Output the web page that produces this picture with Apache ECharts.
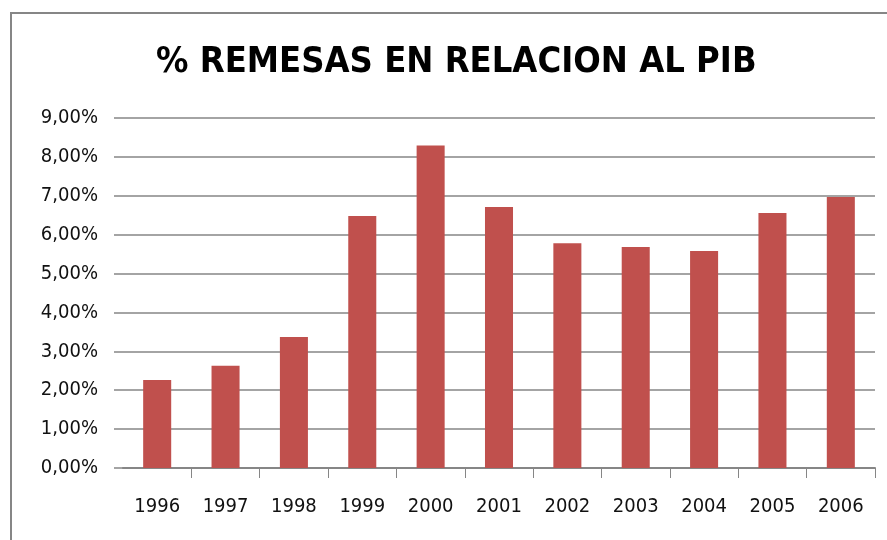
<!DOCTYPE html>
<html>
<head>
<meta charset="utf-8">
<script src="https://cdn.jsdelivr.net/npm/echarts@6/dist/echarts.min.js"></script>
<style>
  html, body { margin: 0; padding: 0; background: #fff; }
  #chart { width: 887px; height: 540px; }
</style>
</head>
<body>
<div id="chart"></div>
<script>
  // datos
  var years = ['1996', '1997', '1998', '1999', '2000', '2001', '2002', '2003', '2004', '2005', '2006'];
  var remesas = [2.26, 2.63, 3.37, 6.48, 8.29, 6.71, 5.78, 5.68, 5.58, 6.56, 6.97];
  var yMin = 0, yMax = 9, yStep = 1;

  var chart = echarts.init(document.getElementById('chart'));
  var font = '"DejaVu Sans Condensed", sans-serif';

  chart.setOption({
    animation: false,
    graphic: [{
      type: 'rect',
      shape: { x: 11, y: 13, width: 900, height: 560 },
      style: { fill: 'none', stroke: '#868686', lineWidth: 2 }
    }],
    title: {
      text: '% REMESAS EN RELACION AL PIB',
      left: 151,
      top: 40,
      textStyle: { fontFamily: font, fontWeight: 'bold', fontSize: 36, color: '#000' }
    },
    // grid 0: gridlines + y labels (gridlines start a bit left of the categories)
    // grid 1: bars + category axis
    grid: [
      { left: 114, right: 12, top: 118, bottom: 72 },
      { left: 123, right: 12, top: 118, bottom: 72 }
    ],
    xAxis: [{
      gridIndex: 0,
      type: 'category',
      data: years,
      show: false
    }, {
      gridIndex: 1,
      type: 'category',
      data: years,
      axisLine: { lineStyle: { color: '#868686', width: 2 } },
      axisTick: {
        show: true,
        length: 10,
        interval: function (i) { return i !== 0; },
        lineStyle: { color: '#868686' }
      },
      axisLabel: { margin: 29, fontFamily: font, fontSize: 20, color: '#111' }
    }],
    yAxis: [{
      gridIndex: 0,
      type: 'value',
      min: yMin,
      max: yMax,
      interval: yStep,
      axisLine: { show: false },
      axisTick: { show: false },
      splitLine: { lineStyle: { color: '#868686', width: 1.5 } },
      axisLabel: {
        margin: 16,
        fontFamily: font,
        fontSize: 20,
        color: '#111',
        formatter: function (v) { return v.toFixed(2).replace('.', ',') + '%'; }
      }
    }, {
      gridIndex: 1,
      type: 'value',
      min: yMin,
      max: yMax,
      interval: yStep,
      show: false,
      splitLine: { show: false }
    }],
    series: [{
      type: 'bar',
      xAxisIndex: 1,
      yAxisIndex: 1,
      data: remesas,
      barWidth: '41%',
      itemStyle: { color: '#C0504D' }
    }]
  });
</script>
</body>
</html>
